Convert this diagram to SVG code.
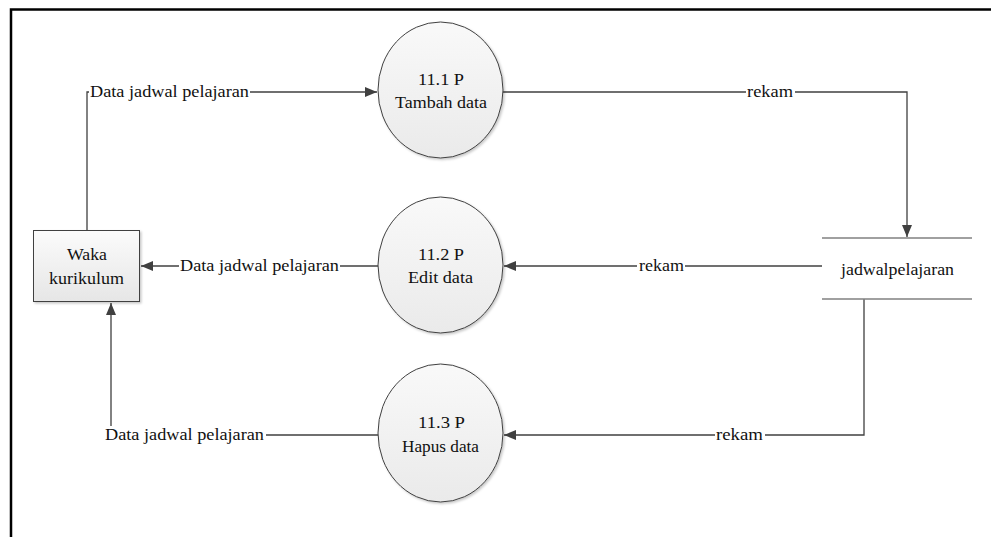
<svg xmlns="http://www.w3.org/2000/svg" width="991" height="537" viewBox="0 0 991 537">
  <style>
    text { font-family: 'Liberation Serif', 'Times New Roman', serif; font-size: 17px; fill: #111; }
    .flow { fill: none; stroke: #404040; stroke-width: 1.3; }
    .proc { fill: url(#procFill); stroke: #404040; stroke-width: 1; }
    .ent { fill: url(#entFill); stroke: #404040; stroke-width: 1; }
    .store { stroke: #808080; stroke-width: 1.5; }
    .bg { fill: #fff; }
  </style>
  <defs>
    <linearGradient id="procFill" x1="0" y1="0" x2="0" y2="1">
      <stop offset="0" stop-color="#f9f9f9"/>
      <stop offset="1" stop-color="#eaeaea"/>
    </linearGradient>
    <linearGradient id="entFill" x1="0" y1="0" x2="0" y2="1">
      <stop offset="0" stop-color="#fbfbfb"/>
      <stop offset="1" stop-color="#e6e6e6"/>
    </linearGradient>
    <filter id="shadow" x="-10%" y="-10%" width="130%" height="130%">
      <feDropShadow dx="1.5" dy="1.5" stdDeviation="1.2" flood-color="#000" flood-opacity="0.22"/>
    </filter>
    <marker id="arrow" viewBox="0 0 12 10" refX="12" refY="5" markerWidth="12" markerHeight="10" markerUnits="userSpaceOnUse" orient="auto">
      <path d="M0,0 L12,5 L0,10 Z" fill="#404040"/>
    </marker>
  </defs>

  <rect class="bg" x="0" y="0" width="991" height="537"/>
  <!-- page frame -->
  <path d="M11,537 L11,9.5 L991,9.5" fill="none" stroke="#000" stroke-width="2.5"/>

  <!-- connectors -->
  <g id="connectors">
    <path class="flow" d="M87,230 L87,92 L377,92" marker-end="url(#arrow)"/>
    <path class="flow" d="M503,92 L907,92 L907,237" marker-end="url(#arrow)"/>
    <path class="flow" d="M822,266 L504,266" marker-end="url(#arrow)"/>
    <path class="flow" d="M378,266 L141,266" marker-end="url(#arrow)"/>
    <path class="flow" d="M864,299 L864,435 L504,435" marker-end="url(#arrow)"/>
    <path class="flow" d="M378,435 L111,435 L111,303" marker-end="url(#arrow)"/>

    <!-- flow labels -->
    <rect class="bg" x="89" y="83" width="161" height="18"/>
    <text x="90" y="97" textLength="159" lengthAdjust="spacingAndGlyphs">Data jadwal pelajaran</text>
    <rect class="bg" x="746" y="83" width="49" height="18"/>
    <text x="747" y="97" textLength="46" lengthAdjust="spacingAndGlyphs">rekam</text>
    <rect class="bg" x="637" y="257" width="48" height="18"/>
    <text x="639" y="271" textLength="45" lengthAdjust="spacingAndGlyphs">rekam</text>
    <rect class="bg" x="179" y="257" width="161" height="18"/>
    <text x="180" y="271" textLength="159" lengthAdjust="spacingAndGlyphs">Data jadwal pelajaran</text>
    <rect class="bg" x="715" y="426" width="50" height="18"/>
    <text x="716" y="440" textLength="47" lengthAdjust="spacingAndGlyphs">rekam</text>
    <rect class="bg" x="104" y="426" width="162" height="18"/>
    <text x="105" y="440" textLength="159" lengthAdjust="spacingAndGlyphs">Data jadwal pelajaran</text>
  </g>

  <!-- external entity -->
  <g id="waka-kurikulum">
    <rect class="ent" x="33.5" y="230.5" width="106" height="71" filter="url(#shadow)"/>
    <text x="87" y="260" text-anchor="middle" textLength="40" lengthAdjust="spacingAndGlyphs">Waka</text>
    <text x="86.5" y="284" text-anchor="middle" textLength="75" lengthAdjust="spacingAndGlyphs">kurikulum</text>
  </g>

  <!-- processes -->
  <g id="p-11-1">
    <ellipse class="proc" cx="440.5" cy="90" rx="62.5" ry="68" filter="url(#shadow)"/>
    <text x="441" y="85" text-anchor="middle" textLength="46" lengthAdjust="spacingAndGlyphs">11.1 P</text>
    <text x="441" y="108" text-anchor="middle" textLength="92" lengthAdjust="spacingAndGlyphs">Tambah data</text>
  </g>
  <g id="p-11-2">
    <ellipse class="proc" cx="440.5" cy="265" rx="62.5" ry="68" filter="url(#shadow)"/>
    <text x="441" y="260" text-anchor="middle" textLength="46" lengthAdjust="spacingAndGlyphs">11.2 P</text>
    <text x="440.5" y="283" text-anchor="middle" textLength="65" lengthAdjust="spacingAndGlyphs">Edit data</text>
  </g>
  <g id="p-11-3">
    <ellipse class="proc" cx="440.5" cy="433" rx="62.5" ry="69" filter="url(#shadow)"/>
    <text x="441.5" y="428" text-anchor="middle" textLength="47" lengthAdjust="spacingAndGlyphs">11.3 P</text>
    <text x="440.5" y="452" text-anchor="middle" textLength="77" lengthAdjust="spacingAndGlyphs">Hapus data</text>
  </g>

  <!-- data store -->
  <g id="jadwalpelajaran">
    <line class="store" x1="822" y1="238" x2="972" y2="238"/>
    <line class="store" x1="822" y1="299" x2="972" y2="299"/>
    <text x="897.5" y="275" text-anchor="middle" textLength="113" lengthAdjust="spacingAndGlyphs">jadwalpelajaran</text>
  </g>
</svg>
